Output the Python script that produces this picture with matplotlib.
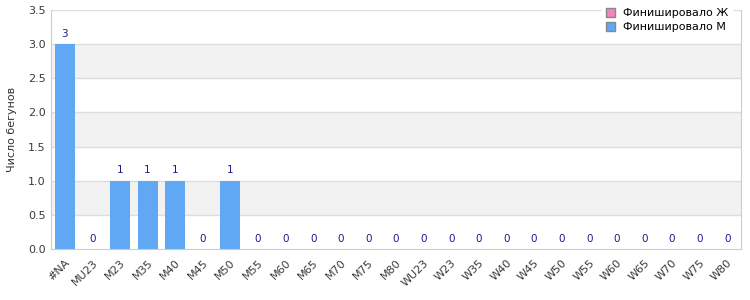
import matplotlib
matplotlib.use("Agg")
import matplotlib.pyplot as plt
import numpy as np
from matplotlib.patches import Patch

categories = ["#NA", "MU23", "M23", "M35", "M40", "M45", "M50", "M55", "M60", "M65",
              "M70", "M75", "M80", "WU23", "W23", "W35", "W40", "W45", "W50", "W55",
              "W60", "W65", "W70", "W75", "W80"]
finished_m = [3, 0, 1, 1, 1, 0, 1, 0, 0, 0, 0, 0, 0, 0, 0, 0, 0, 0, 0, 0, 0, 0, 0, 0, 0]
finished_f = [0] * len(categories)

plt.rcParams['font.family'] = ['DejaVu Sans']

fig = plt.figure(figsize=(7.5, 3), dpi=100)
ax = fig.add_axes([0.068, 0.17, 0.92, 0.797])

x = np.arange(len(categories))

# alternating bands
for lo in [0.5, 1.5, 2.5]:
    ax.axhspan(lo, lo + 0.5, color='#f2f2f2', zorder=0, lw=0)
for yv in np.arange(0.5, 3.51, 0.5):
    ax.axhline(yv, color='#dddddd', lw=1, zorder=1)

bars = ax.bar(x, finished_m, width=0.72, color='#60a8f4', zorder=2)
for xi, v in zip(x, finished_m):
    ax.text(xi, v + 0.08, str(v), ha='center', va='bottom', fontsize=7.5,
            color='#1a1a8c', zorder=3)

ax.set_xlim(-0.5, len(categories) - 0.5)
ax.set_ylim(0, 3.5)
ax.set_yticks(np.arange(0, 3.51, 0.5))
ax.set_yticklabels([f"{v:.1f}" for v in np.arange(0, 3.51, 0.5)])
ax.set_xticks(x)
ax.set_xticklabels(categories, rotation=45, ha='right', rotation_mode='anchor')
ax.tick_params(axis='both', length=0, labelsize=8, colors='#3a3a3a', pad=4)
ax.tick_params(axis='x', pad=6)

for side in ['left', 'bottom', 'right']:
    ax.spines[side].set_color('#cccccc')
ax.spines['top'].set_visible(False)

ax.set_ylabel("Число бегунов", fontsize=8, color='#333333', labelpad=8)

handles = [Patch(facecolor='#f086bd', edgecolor='#888888', label='Финишировало Ж'),
           Patch(facecolor='#60a8f4', edgecolor='#888888', label='Финишировало М')]
leg = ax.legend(handles=handles, loc='upper right', bbox_to_anchor=(0.995, 1.045),
                frameon=True, fontsize=8, handlelength=0.8, handleheight=0.8,
                handletextpad=0.8, labelspacing=0.35, borderpad=0.3)
leg.get_frame().set_edgecolor('white')
leg.get_frame().set_facecolor('white')
leg.get_frame().set_alpha(1)
leg.get_frame().set_boxstyle('square', pad=0)
leg.set_zorder(5)

fig.savefig("out.png", dpi=100)
